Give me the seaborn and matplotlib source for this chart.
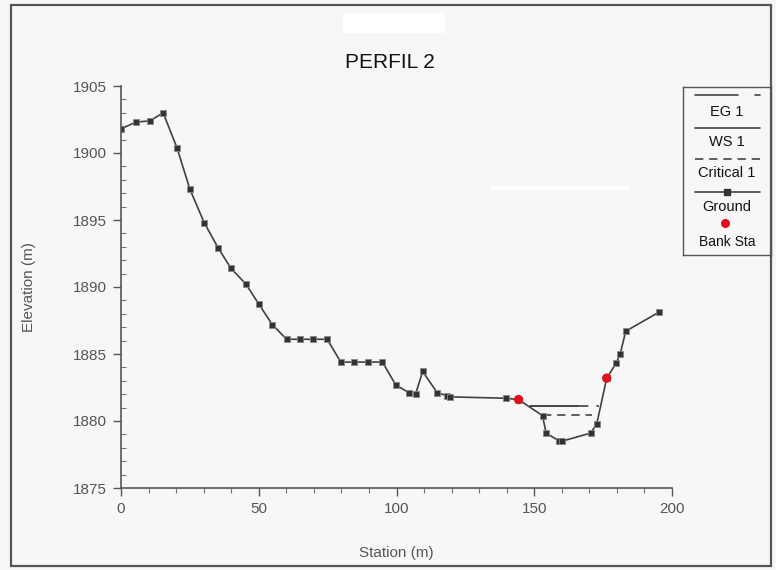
import numpy as np
import pandas as pd
import matplotlib
matplotlib.use("Agg")
import matplotlib.pyplot as plt
from matplotlib.patches import Rectangle
from matplotlib.ticker import MultipleLocator
import seaborn as sns

sns.set_style("ticks")
plt.rcParams['font.family'] = ['Liberation Sans', 'DejaVu Sans']

# Ground profile (station, elevation)
station = [0, 5.3, 10.5, 15.3, 20.3, 25.0, 30.2, 35.3, 39.9, 45.4,
           50.1, 54.9, 60.1, 64.9, 69.7, 74.8, 79.8, 84.6, 89.7, 94.9,
           99.7, 104.6, 106.9, 109.5, 114.8, 118.2, 119.4, 139.6, 144.3, 153.0,
           154.3, 159.1, 160.2, 170.5, 172.7, 176.3, 179.7, 181.2, 183.2, 195.1]
elevation = [1901.8, 1902.3, 1902.4, 1903.0, 1900.4, 1897.3, 1894.8, 1892.9, 1891.4, 1890.2,
             1888.7, 1887.2, 1886.1, 1886.1, 1886.1, 1886.1, 1884.4, 1884.4, 1884.4, 1884.4,
             1882.7, 1882.1, 1882.0, 1883.7, 1882.1, 1881.9, 1881.8, 1881.7, 1881.6, 1880.4,
             1879.1, 1878.5, 1878.5, 1879.1, 1879.8, 1883.2, 1884.3, 1885.0, 1886.7, 1888.1]

# Bank stations
bank_x = [144.3, 176.3]
bank_y = [1881.6, 1883.2]

# Energy grade, water surface, critical depth
eg_x = [148.5, 173.5]
eg_y = [1881.1, 1881.1]
ws_x = [148.5, 166.0]
ws_y = [1881.1, 1881.1]
crit_x = [153.2, 170.8]
crit_y = [1880.45, 1880.45]

ground = pd.DataFrame({'Station': station, 'Elevation': elevation})

bg = '#f7f7f7'
fig = plt.figure(figsize=(7.76, 5.70), dpi=100, facecolor=bg)
ax = fig.add_axes([121/776, 1-488/570, 551/776, 402/570])
ax.set_facecolor(bg)

# water lines
ax.plot(ws_x, ws_y, color='#444444', lw=1.2)
ax.plot(eg_x, eg_y, color='#444444', lw=1.2, linestyle=(0, (35, 4.8, 3.6, 4.8)))
ax.plot(crit_x, crit_y, color='#444444', lw=1.2, linestyle=(0, (5, 3.5)))

sns.lineplot(data=ground, x='Station', y='Elevation', ax=ax, sort=False,
             color='#404040', lw=1.2, marker='s', markersize=3.8,
             markerfacecolor='#333333', markeredgecolor='#888888', markeredgewidth=0.6)
sns.scatterplot(x=bank_x, y=bank_y, ax=ax, color='#e0101e', s=45, edgecolor='none', zorder=5)

ax.set_xlim(0, 200)
ax.set_ylim(1875, 1905)
ax.xaxis.set_major_locator(MultipleLocator(50))
ax.xaxis.set_minor_locator(MultipleLocator(10))
ax.yaxis.set_major_locator(MultipleLocator(5))
ax.yaxis.set_minor_locator(MultipleLocator(1))
sns.despine(ax=ax)
for s in ['left', 'bottom']:
    ax.spines[s].set_color('#555555')
    ax.spines[s].set_linewidth(1.2)
ax.tick_params(axis='both', which='major', direction='out', length=6, width=1,
               color='#555555', labelcolor='#555555', labelsize=11, pad=4)
ax.tick_params(axis='x', which='minor', direction='out', length=3.5, width=0.8, color='#777777')
ax.tick_params(axis='y', which='minor', direction='in', length=3.5, width=0.8, color='#777777')
ax.set_xlabel('Station (m)', fontsize=11, color='#555555', labelpad=22)
ax.set_ylabel('Elevation (m)', fontsize=11, color='#555555', labelpad=27)
ax.grid(False)

fig.text(390/776, 1-62/570, 'PERFIL 2', ha='center', va='center', fontsize=15, color='#111111')

# legend box
lax = fig.add_axes([683/776, 1-255/570, 88/776, 168/570])
lax.set_xlim(683, 771)
lax.set_ylim(255, 87)
lax.set_xticks([])
lax.set_yticks([])
lax.set_facecolor(bg)
for s in lax.spines.values():
    s.set_color('#555555')
    s.set_linewidth(1.0)
lc = '#444444'
lax.plot([695, 738], [95, 95], color=lc, lw=1.2)
lax.plot([755, 760], [95, 95], color=lc, lw=1.2)
lax.text(727, 112, 'EG 1', ha='center', va='center', fontsize=10.5, color='#111111')
lax.plot([695, 760], [128, 128], color=lc, lw=1.2)
lax.text(727, 142, 'WS 1', ha='center', va='center', fontsize=10.5, color='#111111')
lax.plot([695, 760], [159, 159], color=lc, lw=1.2, linestyle=(0, (5, 3.5)))
lax.text(727, 173, 'Critical 1', ha='center', va='center', fontsize=10.5, color='#111111')
lax.plot([695, 760], [192, 192], color=lc, lw=1.2)
lax.plot([727], [192], marker='s', markersize=3.8, color='#333333')
lax.text(727, 207, 'Ground', ha='center', va='center', fontsize=10.5, color='#111111')
lax.plot([725], [223], marker='o', markersize=6.5, color='#e0101e', markeredgecolor='none')
lax.text(727, 242, 'Bank Sta', ha='center', va='center', fontsize=10, color='#111111')

# page border and scan artefacts
fig.patches.append(Rectangle((11/776, 4/570), 760/776, 561/570, transform=fig.transFigure,
                             fill=False, edgecolor='#555555', lw=1.6))
fig.patches.append(Rectangle((343/776, 1-33/570), 102/776, 20/570, transform=fig.transFigure,
                             facecolor='white', edgecolor='none', zorder=-1))
fig.patches.append(Rectangle((490/776, 1-190/570), 140/776, 4/570, transform=fig.transFigure,
                             facecolor='white', edgecolor='none', zorder=0))

fig.savefig('out.png', dpi=100, facecolor=bg)
